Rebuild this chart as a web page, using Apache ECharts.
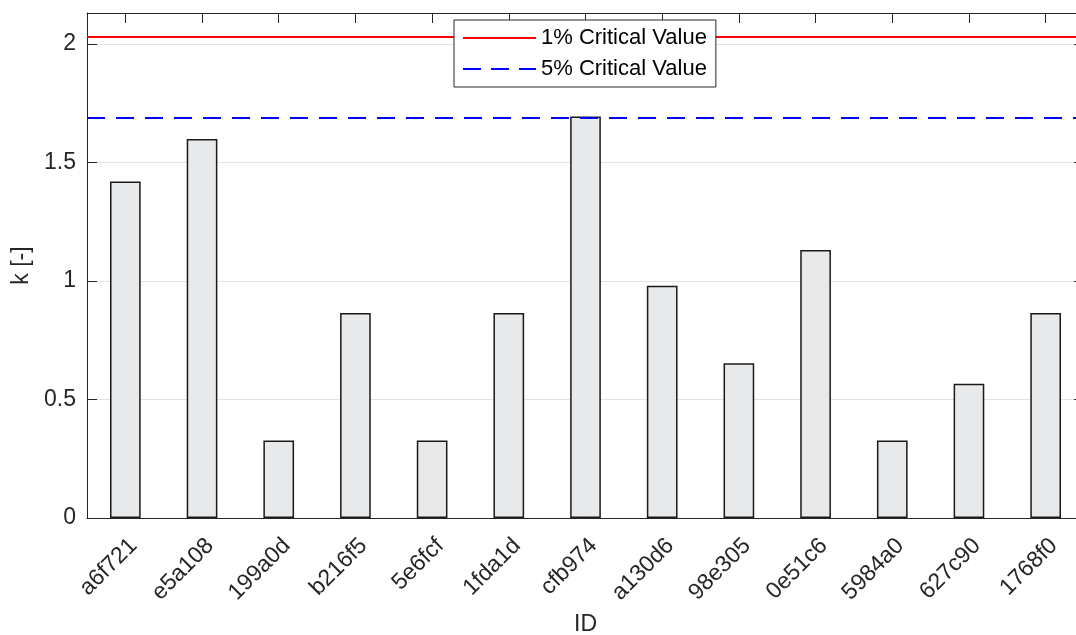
<!DOCTYPE html>
<html>
<head>
<meta charset="utf-8">
<script src="https://cdn.jsdelivr.net/npm/echarts@6/dist/echarts.min.js"></script>
<style>
html,body{margin:0;padding:0;background:#fff;}
#chart{width:1076px;height:635px;}
</style>
</head>
<body>
<div id="chart"></div>
<script>
const categories = ['a6f721','e5a108','199a0d','b216f5','5e6fcf','1fda1d','cfb974','a130d6','98e305','0e51c6','5984a0','627c90','1768f0'];
const kValues = [1.42, 1.60, 0.327, 0.865, 0.327, 0.865, 1.695, 0.98, 0.653, 1.131, 0.327, 0.567, 0.865];
const crit1 = 2.03;
const crit5 = 1.69;
const yTicks = [0, 0.5, 1, 1.5, 2];
const yMax = 2.1315;

const FONT = 'Liberation Sans, Arial, Helvetica, sans-serif';
const AX = '#262626';
const FS = 23;

const chart = echarts.init(document.getElementById('chart'), null, {renderer:'canvas'});
chart.setOption({
  animation: false,
  backgroundColor: '#fff',
  textStyle: {fontFamily: FONT},
  grid: {left: 87, top: 13, width: 997, height: 505, containLabel: false, outerBoundsMode: 'none'},
  legend: {
    orient: 'vertical',
    left: 454, top: 20,
    z: 20, zlevel: 0,
    backgroundColor: '#fff',
    borderColor: AX, borderWidth: 1,
    borderRadius: 0,
    padding: [7, 9, 7, 8],
    itemGap: 9,
    itemWidth: 73, itemHeight: 22,
    itemStyle: {color: 'rgba(0,0,0,0)', borderColor: 'rgba(0,0,0,0)', borderWidth: 0, opacity: 0},
    textStyle: {fontSize: 22, color: '#000', fontFamily: FONT, lineHeight: 22},
    data: ['1% Critical Value', '5% Critical Value']
  },
  xAxis: [{
    type: 'category',
    data: categories,
    name: 'ID',
    nameLocation: 'middle',
    nameGap: 95,
    nameTextStyle: {fontSize: FS, color: AX, fontFamily: FONT},
    axisLine: {show: true, onZero: false, lineStyle: {color: AX, width: 1}},
    axisTick: {show: false},
    axisLabel: {rotate: 45, fontSize: FS, color: AX, fontFamily: FONT, margin: 16, interval: 0, verticalAlign: 'top'},
    splitLine: {show: false}
  }, {
    type: 'category',
    data: categories,
    position: 'top',
    axisLine: {show: true, onZero: false, lineStyle: {color: AX, width: 1}},
    axisTick: {show: true, inside: true, alignWithLabel: true, length: 10, lineStyle: {color: AX}},
    axisLabel: {show: false},
    splitLine: {show: false}
  }],
  yAxis: [{
    type: 'value',
    min: 0, max: yMax, interval: 0.5,
    name: 'k [-]',
    nameLocation: 'middle',
    nameGap: 52,
    nameTextStyle: {fontSize: FS, color: AX, fontFamily: FONT},
    axisLine: {show: true, onZero: false, lineStyle: {color: AX, width: 1}},
    axisTick: {show: true, inside: true, length: 10, lineStyle: {color: AX}},
    axisLabel: {
      fontSize: FS, color: AX, fontFamily: FONT, margin: 11,
      showMaxLabel: false,
      formatter: v => (yTicks.indexOf(+v.toFixed(2)) >= 0 ? String(+v.toFixed(2)) : '')
    },
    splitLine: {show: true, lineStyle: {color: '#e3e3e3', width: 1}}
  }, {
    type: 'value',
    min: 0, max: yMax, interval: 0.5,
    position: 'right',
    axisLine: {show: true, onZero: false, lineStyle: {color: AX, width: 1}},
    axisTick: {show: true, inside: true, length: 10, lineStyle: {color: AX}},
    axisLabel: {show: false},
    splitLine: {show: false}
  }],
  series: [{
    type: 'bar',
    name: 'k',
    data: kValues,
    barWidth: '40%',
    itemStyle: {color: '#e8e9eb', borderColor: '#1a1a1a', borderWidth: 1.5},
    z: 2
  }, {
    type: 'line',
    name: '1% Critical Value',
    data: [],
    symbol: 'none',
    color: '#ff0000',
    lineStyle: {color: '#ff0000', width: 2, type: 'solid'},
    markLine: {
      silent: true, symbol: ['none','none'], label: {show: false},
      lineStyle: {color: '#ff0000', width: 2, type: 'solid'},
      data: [{yAxis: crit1}]
    },
    z: 3
  }, {
    type: 'line',
    name: '5% Critical Value',
    data: [],
    symbol: 'none',
    color: '#0000ff',
    lineStyle: {color: '#0000ff', width: 2, type: [18, 10]},
    markLine: {
      silent: true, symbol: ['none','none'], label: {show: false},
      lineStyle: {color: '#0000ff', width: 2, type: [18, 11]},
      data: [{yAxis: crit5}]
    },
    z: 3
  }]
});
</script>
</body>
</html>
